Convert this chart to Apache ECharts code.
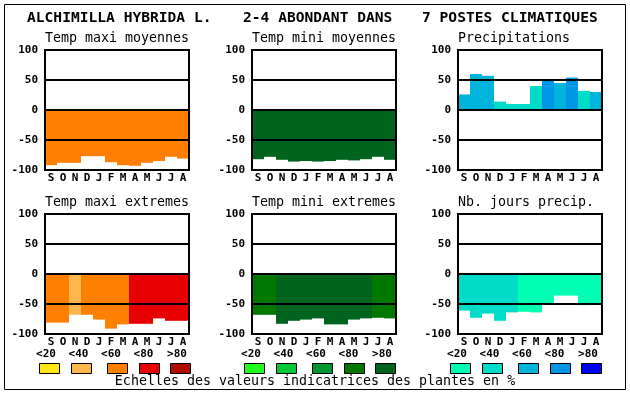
<!DOCTYPE html>
<html><head><meta charset="utf-8">
<script src="https://cdn.jsdelivr.net/npm/echarts@6/dist/echarts.min.js"></script>
<style>html,body{margin:0;padding:0;background:#fff}#c{width:630px;height:394px}</style>
</head><body><div id="c"></div>
<script>
// ---- data ----
const months = ['S','O','N','D','J','F','M','A','M','J','J','A'];
const yTicks = [-100, -50, 0, 50, 100];
const titleParts = ['ALCHIMILLA HYBRIDA L.', '2-4 ABONDANT DANS', '7 POSTES CLIMATIQUES'];
const panelTitles = ['Temp maxi moyennes','Temp mini moyennes','Precipitations','Temp maxi extremes','Temp mini extremes','Nb. jours precip.'];
const footer = 'Echelles des valeurs indicatrices des plantes en %';
const scaleLabels = ['<20','<40','<60','<80','>80'];

const warmColors  = ['#FFE619','#FFB850','#FF8000','#E80000','#B00C00'];
const greenColors = ['#1EFF1E','#00C837','#009632','#007800','#00641E'];
const blueColors  = ['#00FFB4','#00DCC8','#00B4DC','#0096E6','#0000FF'];

const tmaxMoy    = [-92,-88,-88,-77,-77,-87,-92,-93,-88,-85,-78,-81];
const tmaxMoyCls = [2,2,2,2,2,2,2,2,2,2,2,2];
const tminMoy    = [-82,-78,-83,-86,-85,-86,-85,-83,-84,-82,-78,-83];
const tminMoyCls = [4,4,4,4,4,4,4,4,4,4,4,4];
const precip     = [26,60,57,14,10,10,40,49,45,54,32,30];
const precipCls  = [2,2,2,1,1,1,1,3,2,3,1,2];
const tmaxExt    = [-81,-81,-68,-68,-76,-91,-84,-83,-83,-74,-78,-78];
const tmaxExtCls = [2,2,1,2,2,2,2,3,3,3,3,3];
const tminExt    = [-68,-68,-83,-78,-76,-74,-84,-84,-76,-74,-73,-74];
const tminExtCls = [3,3,4,4,4,4,4,4,4,4,3,3];
const nbJours    = [-61,-73,-66,-78,-64,-63,-64,-50,-36,-36,-52,-50];
const nbJoursCls = [1,1,1,1,1,0,0,0,0,0,0,0];

// ---- layout ----
const panels = [
  {v: tmaxMoy, c: tmaxMoyCls, pal: warmColors},
  {v: tminMoy, c: tminMoyCls, pal: greenColors},
  {v: precip,  c: precipCls,  pal: blueColors},
  {v: tmaxExt, c: tmaxExtCls, pal: warmColors},
  {v: tminExt, c: tminExtCls, pal: greenColors},
  {v: nbJours, c: nbJoursCls, pal: blueColors}
];
const lefts = [45, 252, 458], tops = [50, 214];
const mono = "'DejaVu Sans Mono', 'Liberation Mono', monospace";

const grid = [], xAxis = [], yAxis = [], series = [], graphic = [];
panels.forEach((p, i) => {
  const col = i % 3, row = Math.floor(i / 3);
  grid.push({left: lefts[col], top: tops[row], width: 144, height: 120, show: true,
    borderColor: '#000', borderWidth: 2, backgroundColor: 'transparent', z: 5});
  xAxis.push({gridIndex: i, type: 'category', data: months, z: 5,
    axisLine: {show: false}, axisTick: {show: false},
    axisLabel: {color: '#000', fontFamily: mono, fontWeight: 'bold', fontSize: 11, margin: 3, interval: 0}});
  yAxis.push({gridIndex: i, type: 'value', min: yTicks[0], max: yTicks[yTicks.length-1], interval: 50, z: 5,
    axisLine: {show: false}, axisTick: {show: false},
    splitLine: {show: true, lineStyle: {color: '#000', width: 2}},
    axisLabel: {color: '#000', fontFamily: mono, fontWeight: 'bold', fontSize: 11, margin: 7}});
  series.push({type: 'bar', xAxisIndex: i, yAxisIndex: i, z: 1, barWidth: '100%', barCategoryGap: 0,
    silent: true, animation: false,
    data: p.v.map((v, k) => ({value: v, itemStyle: {color: p.pal[p.c[k]]}}))});
  graphic.push({type: 'text', x: lefts[col], y: row === 0 ? 39 : 203,
    style: {text: panelTitles[i], font: '13.3px ' + mono, fill: '#000', verticalAlign: 'middle', align: 'left'}});
});

// frame
graphic.push({type: 'rect', shape: {x: 4.5, y: 4.5, width: 621, height: 385},
  style: {fill: null, stroke: '#000', lineWidth: 1}, z: -1});
// title
const titleX = [27, 243, 422];
titleParts.forEach((t, k) => graphic.push({type: 'text', x: titleX[k], y: 18,
  style: {text: t, font: 'bold 14.6px ' + mono, fill: '#000', verticalAlign: 'middle', align: 'left'}}));
// legend scales
const groupX = [39, 244, 450];
const boxOff = [0, 32, 68, 100, 131];
const labOff = [7, 39.5, 72, 104.5, 138];
const pals = [warmColors, greenColors, blueColors];
groupX.forEach((gx, g) => {
  scaleLabels.forEach((lab, k) => {
    graphic.push({type: 'rect', shape: {x: gx + boxOff[k] + 0.5, y: 363.5, width: 20, height: 10},
      style: {fill: pals[g][k], stroke: '#000', lineWidth: 1}});
    graphic.push({type: 'text', x: gx + labOff[k], y: 354,
      style: {text: lab, font: 'bold 11px ' + mono, fill: '#000', verticalAlign: 'middle', align: 'center'}});
  });
});
graphic.push({type: 'text', x: 315, y: 382,
  style: {text: footer, font: '13.3px ' + mono, fill: '#000', verticalAlign: 'middle', align: 'center'}});

const chart = echarts.init(document.getElementById('c'), null, {renderer: 'canvas'});
chart.setOption({animation: false, backgroundColor: '#fff', grid, xAxis, yAxis, series, graphic});
</script></body></html>
